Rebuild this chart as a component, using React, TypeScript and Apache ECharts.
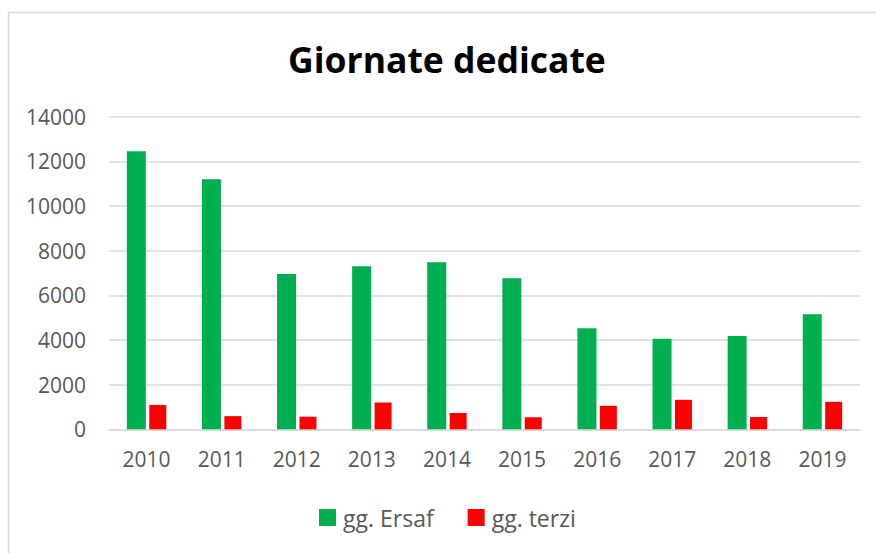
import React, { useEffect, useRef } from "react";
import * as echarts from "echarts";

const categories = ["2010", "2011", "2012", "2013", "2014", "2015", "2016", "2017", "2018", "2019"];
const ersaf = [12450, 11200, 6950, 7300, 7480, 6760, 4520, 4050, 4180, 5150];
const terzi = [1090, 590, 565, 1200, 730, 540, 1050, 1320, 550, 1230];

export default function App() {
  const ref = useRef<HTMLDivElement>(null);
  useEffect(() => {
    if (!ref.current) return;
    const chart = echarts.init(ref.current, undefined, { renderer: "svg" });
    const font = "'Open Sans', sans-serif";
    chart.setOption({
      animation: false,
      backgroundColor: "#ffffff",
      title: {
        text: "Giornate dedicate",
        left: 288,
        top: 41,
        padding: 0,
        textStyle: { fontFamily: font, fontSize: 35.5, fontWeight: "bold", color: "#000000" },
      },
      graphic: [
        {
          type: "rect",
          shape: { x: 8.5, y: 12.5, width: 900, height: 600 },
          style: { fill: "none", stroke: "#d9d9d9", lineWidth: 1.5 },
          silent: true,
        },
      ],
      legend: {
        bottom: 24,
        left: 319,
        padding: 0,
        itemWidth: 17,
        itemHeight: 17,
        itemGap: 34,
        icon: "rect",
        textStyle: { fontFamily: font, fontSize: 23, color: "#595959", padding: [0, 0, 0, 2] },
        data: ["gg. Ersaf", "gg. terzi"],
      },
      grid: { left: 109, right: 16, top: 116.7, bottom: 123.7, containLabel: false },
      xAxis: {
        type: "category",
        data: categories,
        axisLine: { lineStyle: { color: "#d9d9d9", width: 1.5 } },
        axisTick: { show: false },
        axisLabel: { fontFamily: font, fontSize: 21, color: "#595959", margin: 19 },
      },
      yAxis: {
        type: "value",
        min: 0,
        max: 14000,
        interval: 2000,
        axisLine: { show: false },
        axisTick: { show: false },
        splitLine: { lineStyle: { color: "#d9d9d9", width: 1.5 } },
        axisLabel: {
          fontFamily: font,
          fontSize: 21,
          color: "#595959",
          margin: 23,
          formatter: (v: number) => String(v),
        },
      },
      series: [
        {
          name: "gg. Ersaf",
          type: "bar",
          data: ersaf,
          barWidth: 19,
          barGap: "18%",
          itemStyle: { color: "#00b050" },
        },
        {
          name: "gg. terzi",
          type: "bar",
          data: terzi,
          barWidth: 17,
          itemStyle: { color: "#ff0000" },
        },
      ],
    });
    return () => chart.dispose();
  }, []);
  return (
    <div
      ref={ref}
      style={{ position: "fixed", left: 0, top: 0, width: 876, height: 553 }}
    />
  );
}
